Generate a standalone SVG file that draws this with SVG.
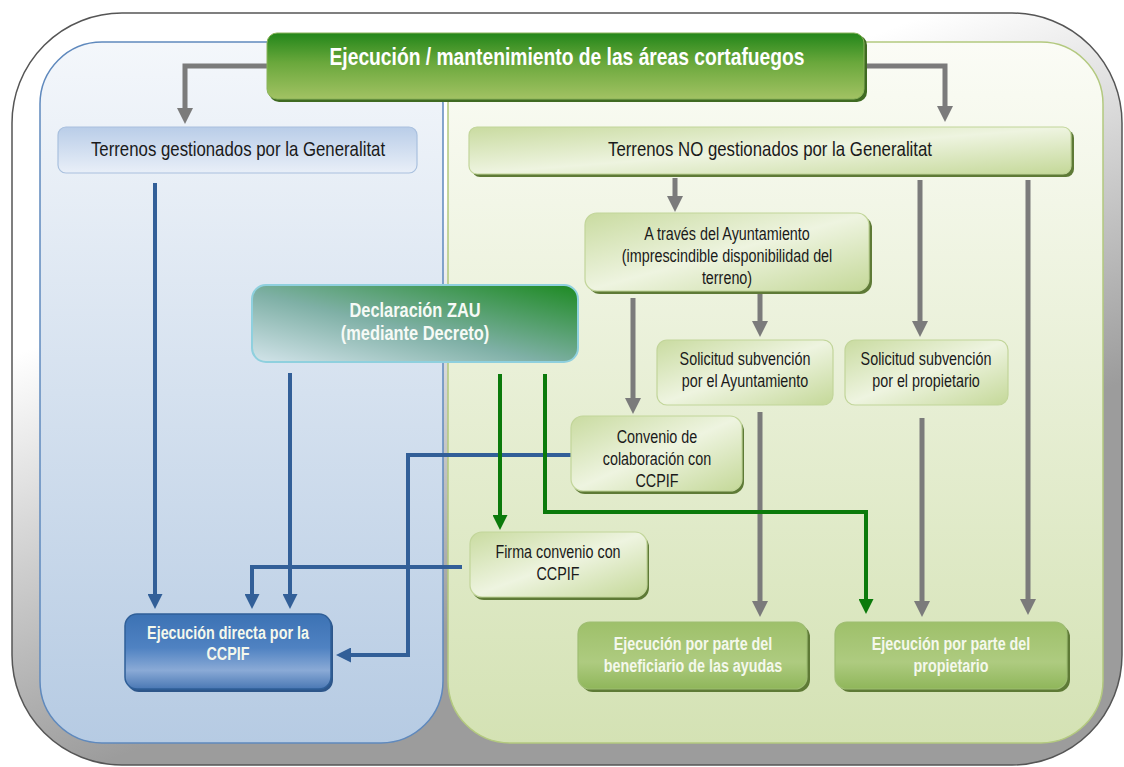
<svg xmlns="http://www.w3.org/2000/svg" width="1124" height="767" viewBox="0 0 1124 767">
<defs>
<linearGradient id="gOuter" x1="0" y1="0" x2="0.55" y2="1">
<stop offset="0.35" stop-color="#ffffff"/>
<stop offset="0.8" stop-color="#9c9c9c"/>
</linearGradient>
<linearGradient id="gBluePanel" x1="0" y1="0" x2="0" y2="1">
<stop offset="0" stop-color="#f4f7fb"/>
<stop offset="1" stop-color="#b6cbe3"/>
</linearGradient>
<linearGradient id="gGreenPanel" x1="0" y1="0" x2="0" y2="1">
<stop offset="0" stop-color="#fbfcf6"/>
<stop offset="1" stop-color="#d4e2b4"/>
</linearGradient>
<linearGradient id="gTitle" x1="0" y1="0" x2="0" y2="1">
<stop offset="0" stop-color="#23861a"/>
<stop offset="0.45" stop-color="#6aa83c"/>
<stop offset="1" stop-color="#a2c263"/>
</linearGradient>
<linearGradient id="gBlueBox" x1="0" y1="0" x2="0" y2="1">
<stop offset="0" stop-color="#b9cde8"/>
<stop offset="1" stop-color="#e9eff8"/>
</linearGradient>
<linearGradient id="gLightGreen" x1="0" y1="0" x2="1" y2="1">
<stop offset="0" stop-color="#c9dba0"/>
<stop offset="0.5" stop-color="#eef4e0"/>
<stop offset="1" stop-color="#c4d898"/>
</linearGradient>
<linearGradient id="gZAU" x1="0" y1="1" x2="1" y2="0">
<stop offset="0" stop-color="#d3e4ea"/>
<stop offset="0.45" stop-color="#7fb0a6"/>
<stop offset="1" stop-color="#1d8a22"/>
</linearGradient>
<linearGradient id="gExecBlue" x1="0" y1="0" x2="0" y2="1">
<stop offset="0" stop-color="#3c72b4"/>
<stop offset="0.45" stop-color="#4f82c2"/>
<stop offset="0.75" stop-color="#8aaad6"/>
<stop offset="1" stop-color="#4a78b4"/>
</linearGradient>
<linearGradient id="gExecGreen" x1="0" y1="0" x2="0" y2="1">
<stop offset="0" stop-color="#9ec06a"/>
<stop offset="0.6" stop-color="#aecb80"/>
<stop offset="1" stop-color="#8fb65a"/>
</linearGradient>
<marker id="aGray" viewBox="0 0 10 10" refX="0" refY="5" markerWidth="16" markerHeight="16" markerUnits="userSpaceOnUse" orient="auto"><path d="M0,0 L10,5 L0,10 z" fill="#7b7b7b"/></marker>
<marker id="aBlue" viewBox="0 0 10 10" refX="0" refY="5" markerWidth="15" markerHeight="15" markerUnits="userSpaceOnUse" orient="auto"><path d="M0,0 L10,5 L0,10 z" fill="#325f98"/></marker>
<marker id="aGreen" viewBox="0 0 10 10" refX="0" refY="5" markerWidth="15" markerHeight="15" markerUnits="userSpaceOnUse" orient="auto"><path d="M0,0 L10,5 L0,10 z" fill="#0b7a0b"/></marker>
</defs>
<style>
text{font-family:"Liberation Sans",Arial,sans-serif;text-anchor:middle}
.t{font-size:17.5px;fill:#1a1a1a}
.tb{font-size:20.5px;fill:#1a1a1a}
.w{font-size:17.5px;font-weight:bold;fill:#f4f8ec}
.z{font-size:20px;font-weight:bold;fill:#f6faf6}
.lg{fill:url(#gLightGreen);stroke:#c2d59a;stroke-width:1.2}
.sh{fill:#5e7a36}
.cg{fill:none;stroke:#7b7b7b;stroke-width:5}
.cb{fill:none;stroke:#325f98;stroke-width:4}
.cn{fill:none;stroke:#0b7a0b;stroke-width:4}
</style>
<g id="background">
<rect x="12" y="13" width="1110" height="752" rx="110" fill="url(#gOuter)" stroke="#555" stroke-width="1.5"/>
<rect x="40" y="42" width="403" height="701" rx="62" fill="url(#gBluePanel)" stroke="#5f89bd" stroke-width="1.5"/>
<rect x="448" y="42" width="655" height="701" rx="62" fill="url(#gGreenPanel)" stroke="#b3c97f" stroke-width="1.5"/>
</g>
<g id="connectors">
<path class="cg" d="M267,66 H185 V108" marker-end="url(#aGray)"/>
<path class="cg" d="M865,66 H945 V106" marker-end="url(#aGray)"/>
<path class="cg" d="M675,178 V196" marker-end="url(#aGray)"/>
<path class="cg" d="M633,298 V398" marker-end="url(#aGray)"/>
<path class="cg" d="M760,294 V321" marker-end="url(#aGray)"/>
<path class="cg" d="M920,180 V321" marker-end="url(#aGray)"/>
<path class="cg" d="M1028,180 V599" marker-end="url(#aGray)"/>
<path class="cg" d="M760,412 V601" marker-end="url(#aGray)"/>
<path class="cg" d="M922,418 V601" marker-end="url(#aGray)"/>
<path class="cb" d="M155,183 V594" marker-end="url(#aBlue)"/>
<path class="cb" d="M290,373 V594" marker-end="url(#aBlue)"/>
<path class="cb" d="M462,567 H252 V594" marker-end="url(#aBlue)"/>
<path class="cb" d="M571,455 H408 V655 H351" marker-end="url(#aBlue)"/>
<path class="cn" d="M500,374 V515" marker-end="url(#aGreen)"/>
<path class="cn" d="M545,374 V512 H866 V599" marker-end="url(#aGreen)"/>
</g>
<g id="title">
<rect x="269" y="35" width="598" height="67" rx="10" fill="#3f6a22"/>
<rect x="267" y="33" width="597" height="66" rx="10" fill="url(#gTitle)" stroke="#8ab35a" stroke-width="1"/>
<g transform="translate(567 0) scale(0.82 1)"><text x="0" y="65" style="font-size:23.5px;font-weight:bold;fill:#ffffff">Ejecución / mantenimiento de las áreas cortafuegos</text></g>
</g>
<g id="terrenos-gestionados">
<rect x="58" y="127" width="359" height="46" rx="8" fill="url(#gBlueBox)" stroke="#a9c0de" stroke-width="1.2"/>
<g transform="translate(238 0) scale(0.82 1)"><text class="tb" x="0" y="156">Terrenos gestionados por la Generalitat</text></g>
</g>
<g id="terrenos-no-gestionados">
<rect x="472" y="130" width="602" height="47" rx="8" class="sh"/>
<rect x="469" y="127" width="602" height="47" rx="8" class="lg"/>
<g transform="translate(770 0) scale(0.82 1)"><text class="tb" x="0" y="156">Terrenos NO gestionados por la Generalitat</text></g>
</g>
<g id="a-traves-ayuntamiento">
<rect x="588" y="216" width="284" height="78" rx="12" class="sh"/>
<rect x="585" y="213" width="284" height="78" rx="12" class="lg"/>
<g transform="translate(727 0) scale(0.82 1)">
<text class="t" x="0" y="240">A través del Ayuntamiento</text>
<text class="t" x="0" y="262">(imprescindible disponibilidad del</text>
<text class="t" x="0" y="284">terreno)</text>
</g>
</g>
<g id="declaracion-zau">
<rect x="252" y="285" width="326" height="77" rx="14" fill="url(#gZAU)" stroke="#8fd0de" stroke-width="2"/>
<g transform="translate(415 0) scale(0.82 1)">
<text class="z" x="0" y="317">Declaración ZAU</text>
<text class="z" x="0" y="340">(mediante Decreto)</text>
</g>
</g>
<g id="solicitud-ayuntamiento">
<rect x="657" y="340" width="176" height="65" rx="10" class="lg"/>
<g transform="translate(745 0) scale(0.82 1)">
<text class="t" x="0" y="365">Solicitud subvención</text>
<text class="t" x="0" y="387">por el Ayuntamiento</text>
</g>
</g>
<g id="solicitud-propietario">
<rect x="845" y="340" width="163" height="65" rx="10" class="lg"/>
<g transform="translate(926 0) scale(0.82 1)">
<text class="t" x="0" y="365">Solicitud subvención</text>
<text class="t" x="0" y="387">por el propietario</text>
</g>
</g>
<g id="convenio-colaboracion">
<rect x="573" y="419" width="171" height="75" rx="12" class="sh"/>
<rect x="571" y="416" width="171" height="75" rx="12" class="lg"/>
<g transform="translate(657 0) scale(0.82 1)">
<text class="t" x="0" y="443">Convenio de</text>
<text class="t" x="0" y="465">colaboración con</text>
<text class="t" x="0" y="487">CCPIF</text>
</g>
</g>
<g id="firma-convenio">
<rect x="472" y="535" width="177" height="65" rx="12" class="sh"/>
<rect x="470" y="532" width="177" height="65" rx="12" class="lg"/>
<g transform="translate(558 0) scale(0.82 1)">
<text class="t" x="0" y="558">Firma convenio con</text>
<text class="t" x="0" y="580">CCPIF</text>
</g>
</g>
<g id="ejecucion-directa">
<rect x="127" y="616" width="206" height="76" rx="12" fill="#2d568a"/>
<rect x="125" y="614" width="206" height="75" rx="12" fill="url(#gExecBlue)" stroke="#2f5f98" stroke-width="1.5"/>
<g transform="translate(228 0) scale(0.82 1)">
<text class="w" x="0" y="639">Ejecución directa por la</text>
<text class="w" x="0" y="660">CCPIF</text>
</g>
</g>
<g id="ejecucion-beneficiario">
<rect x="581" y="625" width="229" height="67" rx="12" class="sh"/>
<rect x="578" y="622" width="229" height="67" rx="12" fill="url(#gExecGreen)" stroke="#9ebd72" stroke-width="1.2"/>
<g transform="translate(693 0) scale(0.82 1)">
<text class="w" x="0" y="650">Ejecución por parte del</text>
<text class="w" x="0" y="672">beneficiario de las ayudas</text>
</g>
</g>
<g id="ejecucion-propietario">
<rect x="838" y="625" width="232" height="67" rx="12" class="sh"/>
<rect x="835" y="622" width="232" height="67" rx="12" fill="url(#gExecGreen)" stroke="#9ebd72" stroke-width="1.2"/>
<g transform="translate(951 0) scale(0.82 1)">
<text class="w" x="0" y="650">Ejecución por parte del</text>
<text class="w" x="0" y="672">propietario</text>
</g>
</g>
</svg>
